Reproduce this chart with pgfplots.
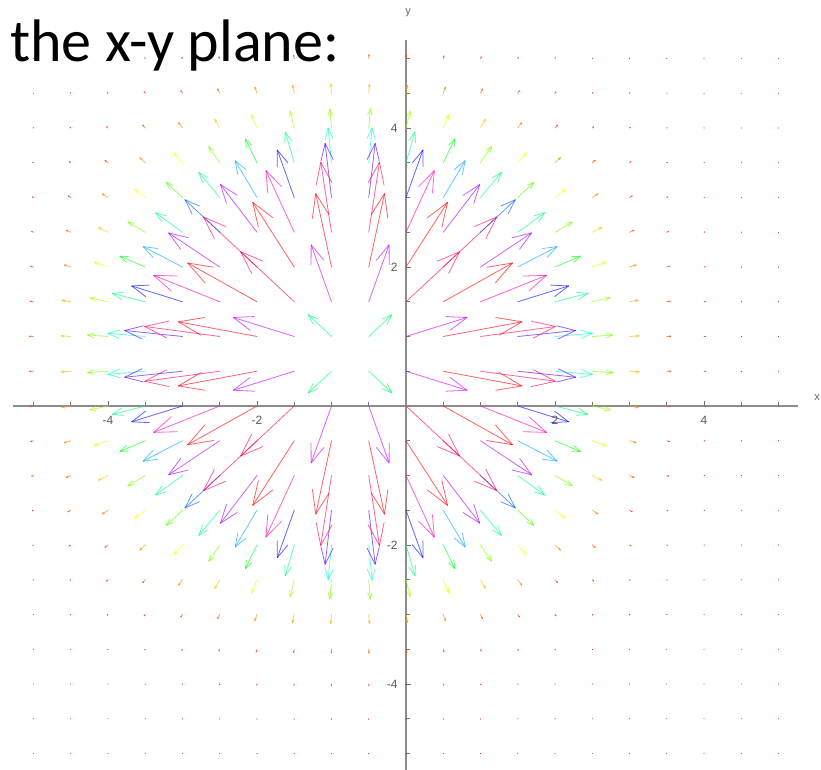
\documentclass[border=0pt]{standalone}
\usepackage{fontspec}
\setmainfont{Liberation Sans}
\newfontfamily\titlefont{Carlito}
\usepackage{pgfplots}
\usepackage{pgfplotstable}
\pgfplotsset{compat=1.18}

% vector field sampled on a 0.5 grid: start point (x,y) and vector (u,v)
\pgfplotstableread{
x y u v
-5 -5 0 0
-4.5 -5 0 0
-4 -5 0 0
-3.5 -5 0 0
-3 -5 0 0
-2.5 -5 0 -0.001
-2 -5 0 -0.001
-1.5 -5 0 -0.001
-1 -5 0 -0.002
-0.5 -5 0 -0.002
0 -5 0 -0.001
0.5 -5 0 -0.001
1 -5 0 -0.001
1.5 -5 0 0
2 -5 0 0
2.5 -5 0 0
3 -5 0 0
3.5 -5 0 0
4 -5 0 0
4.5 -5 0 0
5 -5 0 0
-5 -4.5 0 0
-4.5 -4.5 0 0
-4 -4.5 0 0
-3.5 -4.5 0 -0.001
-3 -4.5 -0.001 -0.002
-2.5 -4.5 -0.001 -0.003
-2 -4.5 -0.001 -0.004
-1.5 -4.5 -0.001 -0.005
-1 -4.5 0 -0.006
-0.5 -4.5 0 -0.006
0 -4.5 0.001 -0.005
0.5 -4.5 0.001 -0.004
1 -4.5 0.001 -0.003
1.5 -4.5 0.001 -0.002
2 -4.5 0 -0.001
2.5 -4.5 0 0
3 -4.5 0 0
3.5 -4.5 0 0
4 -4.5 0 0
4.5 -4.5 0 0
5 -4.5 0 0
-5 -4 0 0
-4.5 -4 0 -0.001
-4 -4 -0.001 -0.001
-3.5 -4 -0.002 -0.003
-3 -4 -0.002 -0.005
-2.5 -4 -0.003 -0.009
-2 -4 -0.003 -0.013
-1.5 -4 -0.003 -0.016
-1 -4 -0.001 -0.019
-0.5 -4 0.001 -0.019
0 -4 0.003 -0.016
0.5 -4 0.003 -0.013
1 -4 0.003 -0.009
1.5 -4 0.002 -0.005
2 -4 0.002 -0.003
2.5 -4 0.001 -0.001
3 -4 0 -0.001
3.5 -4 0 0
4 -4 0 0
4.5 -4 0 0
5 -4 0 0
-5 -3.5 -0.001 -0.001
-4.5 -3.5 -0.001 -0.002
-4 -3.5 -0.003 -0.004
-3.5 -3.5 -0.005 -0.008
-3 -3.5 -0.008 -0.015
-2.5 -3.5 -0.010 -0.024
-2 -3.5 -0.011 -0.036
-1.5 -3.5 -0.008 -0.046
-1 -3.5 -0.003 -0.053
-0.5 -3.5 0.003 -0.053
0 -3.5 0.008 -0.046
0.5 -3.5 0.011 -0.036
1 -3.5 0.010 -0.024
1.5 -3.5 0.008 -0.015
2 -3.5 0.005 -0.008
2.5 -3.5 0.003 -0.004
3 -3.5 0.001 -0.002
3.5 -3.5 0.001 -0.001
4 -3.5 0 0
4.5 -3.5 0 0
5 -3.5 0 0
-5 -3 -0.002 -0.001
-4.5 -3 -0.004 -0.004
-4 -3 -0.008 -0.009
-3.5 -3 -0.014 -0.019
-3 -3 -0.022 -0.036
-2.5 -3 -0.028 -0.060
-2 -3 -0.029 -0.088
-1.5 -3 -0.023 -0.114
-1 -3 -0.009 -0.129
-0.5 -3 0.009 -0.129
0 -3 0.023 -0.114
0.5 -3 0.029 -0.088
1 -3 0.028 -0.060
1.5 -3 0.022 -0.036
2 -3 0.014 -0.019
2.5 -3 0.008 -0.009
3 -3 0.004 -0.004
3.5 -3 0.002 -0.001
4 -3 0.001 0
4.5 -3 0 0
5 -3 0 0
-5 -2.5 -0.004 -0.003
-4.5 -2.5 -0.009 -0.008
-4 -2.5 -0.019 -0.019
-3.5 -2.5 -0.034 -0.040
-3 -2.5 -0.053 -0.076
-2.5 -2.5 -0.068 -0.127
-2 -2.5 -0.072 -0.187
-1.5 -2.5 -0.056 -0.241
-1 -2.5 -0.021 -0.274
-0.5 -2.5 0.021 -0.274
0 -2.5 0.056 -0.241
0.5 -2.5 0.072 -0.187
1 -2.5 0.068 -0.127
1.5 -2.5 0.053 -0.076
2 -2.5 0.034 -0.040
2.5 -2.5 0.019 -0.019
3 -2.5 0.009 -0.008
3.5 -2.5 0.004 -0.003
4 -2.5 0.001 -0.001
4.5 -2.5 0 0
5 -2.5 0 0
-5 -2 -0.008 -0.005
-4.5 -2 -0.019 -0.014
-4 -2 -0.040 -0.034
-3.5 -2 -0.073 -0.073
-3 -2 -0.114 -0.139
-2.5 -2 -0.148 -0.232
-2 -2 -0.155 -0.340
-1.5 -2 -0.120 -0.440
-1 -2 -0.045 -0.500
-0.5 -2 0.045 -0.500
0 -2 0.120 -0.440
0.5 -2 0.155 -0.340
1 -2 0.148 -0.232
1.5 -2 0.114 -0.139
2 -2 0.073 -0.073
2.5 -2 0.040 -0.034
3 -2 0.019 -0.014
3.5 -2 0.008 -0.005
4 -2 0.003 -0.002
4.5 -2 0.001 0
5 -2 0 0
-5 -1.5 -0.015 -0.008
-4.5 -1.5 -0.036 -0.022
-4 -1.5 -0.076 -0.053
-3.5 -1.5 -0.139 -0.114
-3 -1.5 -0.216 -0.216
-2.5 -1.5 -0.280 -0.360
-2 -1.5 -0.293 -0.528
-1.5 -1.5 -0.227 -0.682
-1 -1.5 -0.086 -0.776
-0.5 -1.5 0.086 -0.776
0 -1.5 0.227 -0.682
0.5 -1.5 0.293 -0.528
1 -1.5 0.280 -0.360
1.5 -1.5 0.216 -0.216
2 -1.5 0.139 -0.114
2.5 -1.5 0.076 -0.053
3 -1.5 0.036 -0.022
3.5 -1.5 0.015 -0.008
4 -1.5 0.005 -0.002
4.5 -1.5 0.002 -0.001
5 -1.5 0 0
-5 -1 -0.024 -0.010
-4.5 -1 -0.060 -0.028
-4 -1 -0.127 -0.068
-3.5 -1 -0.232 -0.148
-3 -1 -0.360 -0.280
-2.5 -1 -0.467 -0.467
-2 -1 -0.490 -0.686
-1.5 -1 -0.380 -0.886
-1 -1 -0.144 -1.007
-0.5 -1 0.144 -1.007
0 -1 0.380 -0.886
0.5 -1 0.490 -0.686
1 -1 0.467 -0.467
1.5 -1 0.360 -0.280
2 -1 0.232 -0.148
2.5 -1 0.127 -0.068
3 -1 0.060 -0.028
3.5 -1 0.024 -0.010
4 -1 0.009 -0.003
4.5 -1 0.003 -0.001
5 -1 0.001 0
-5 -0.5 -0.036 -0.011
-4.5 -0.5 -0.088 -0.029
-4 -0.5 -0.187 -0.072
-3.5 -0.5 -0.340 -0.155
-3 -0.5 -0.528 -0.293
-2.5 -0.5 -0.686 -0.490
-2 -0.5 -0.719 -0.719
-1.5 -0.5 -0.557 -0.929
-1 -0.5 -0.211 -1.055
-0.5 -0.5 0.211 -1.055
0 -0.5 0.557 -0.929
0.5 -0.5 0.719 -0.719
1 -0.5 0.686 -0.490
1.5 -0.5 0.528 -0.293
2 -0.5 0.340 -0.155
2.5 -0.5 0.187 -0.072
3 -0.5 0.088 -0.029
3.5 -0.5 0.036 -0.011
4 -0.5 0.013 -0.003
4.5 -0.5 0.004 -0.001
5 -0.5 0.001 0
-5 0 -0.046 -0.008
-4.5 0 -0.114 -0.023
-4 0 -0.241 -0.056
-3.5 0 -0.440 -0.120
-3 0 -0.682 -0.227
-2.5 0 -0.886 -0.380
-2 0 -0.929 -0.557
-1.5 0 -0.720 -0.720
-1 0 -0.273 -0.818
-0.5 0 0.273 -0.818
0 0 0.720 -0.720
0.5 0 0.929 -0.557
1 0 0.886 -0.380
1.5 0 0.682 -0.227
2 0 0.440 -0.120
2.5 0 0.241 -0.056
3 0 0.114 -0.023
3.5 0 0.046 -0.008
4 0 0.016 -0.003
4.5 0 0.005 -0.001
5 0 0.001 0
-5 0.5 -0.053 -0.003
-4.5 0.5 -0.129 -0.009
-4 0.5 -0.274 -0.021
-3.5 0.5 -0.500 -0.045
-3 0.5 -0.776 -0.086
-2.5 0.5 -1.007 -0.144
-2 0.5 -1.055 -0.211
-1.5 0.5 -0.818 -0.273
-1 0.5 -0.310 -0.310
-0.5 0.5 0.310 -0.310
0 0.5 0.818 -0.273
0.5 0.5 1.055 -0.211
1 0.5 1.007 -0.144
1.5 0.5 0.776 -0.086
2 0.5 0.500 -0.045
2.5 0.5 0.274 -0.021
3 0.5 0.129 -0.009
3.5 0.5 0.053 -0.003
4 0.5 0.019 -0.001
4.5 0.5 0.006 0
5 0.5 0.002 0
-5 1 -0.053 0.003
-4.5 1 -0.129 0.009
-4 1 -0.274 0.021
-3.5 1 -0.500 0.045
-3 1 -0.776 0.086
-2.5 1 -1.007 0.144
-2 1 -1.055 0.211
-1.5 1 -0.818 0.273
-1 1 -0.310 0.310
-0.5 1 0.310 0.310
0 1 0.818 0.273
0.5 1 1.055 0.211
1 1 1.007 0.144
1.5 1 0.776 0.086
2 1 0.500 0.045
2.5 1 0.274 0.021
3 1 0.129 0.009
3.5 1 0.053 0.003
4 1 0.019 0.001
4.5 1 0.006 0
5 1 0.002 0
-5 1.5 -0.046 0.008
-4.5 1.5 -0.114 0.023
-4 1.5 -0.241 0.056
-3.5 1.5 -0.440 0.120
-3 1.5 -0.682 0.227
-2.5 1.5 -0.886 0.380
-2 1.5 -0.929 0.557
-1.5 1.5 -0.720 0.720
-1 1.5 -0.273 0.818
-0.5 1.5 0.273 0.818
0 1.5 0.720 0.720
0.5 1.5 0.929 0.557
1 1.5 0.886 0.380
1.5 1.5 0.682 0.227
2 1.5 0.440 0.120
2.5 1.5 0.241 0.056
3 1.5 0.114 0.023
3.5 1.5 0.046 0.008
4 1.5 0.016 0.003
4.5 1.5 0.005 0.001
5 1.5 0.001 0
-5 2 -0.036 0.011
-4.5 2 -0.088 0.029
-4 2 -0.187 0.072
-3.5 2 -0.340 0.155
-3 2 -0.528 0.293
-2.5 2 -0.686 0.490
-2 2 -0.719 0.719
-1.5 2 -0.557 0.929
-1 2 -0.211 1.055
-0.5 2 0.211 1.055
0 2 0.557 0.929
0.5 2 0.719 0.719
1 2 0.686 0.490
1.5 2 0.528 0.293
2 2 0.340 0.155
2.5 2 0.187 0.072
3 2 0.088 0.029
3.5 2 0.036 0.011
4 2 0.013 0.003
4.5 2 0.004 0.001
5 2 0.001 0
-5 2.5 -0.024 0.010
-4.5 2.5 -0.060 0.028
-4 2.5 -0.127 0.068
-3.5 2.5 -0.232 0.148
-3 2.5 -0.360 0.280
-2.5 2.5 -0.467 0.467
-2 2.5 -0.490 0.686
-1.5 2.5 -0.380 0.886
-1 2.5 -0.144 1.007
-0.5 2.5 0.144 1.007
0 2.5 0.380 0.886
0.5 2.5 0.490 0.686
1 2.5 0.467 0.467
1.5 2.5 0.360 0.280
2 2.5 0.232 0.148
2.5 2.5 0.127 0.068
3 2.5 0.060 0.028
3.5 2.5 0.024 0.010
4 2.5 0.009 0.003
4.5 2.5 0.003 0.001
5 2.5 0.001 0
-5 3 -0.015 0.008
-4.5 3 -0.036 0.022
-4 3 -0.076 0.053
-3.5 3 -0.139 0.114
-3 3 -0.216 0.216
-2.5 3 -0.280 0.360
-2 3 -0.293 0.528
-1.5 3 -0.227 0.682
-1 3 -0.086 0.776
-0.5 3 0.086 0.776
0 3 0.227 0.682
0.5 3 0.293 0.528
1 3 0.280 0.360
1.5 3 0.216 0.216
2 3 0.139 0.114
2.5 3 0.076 0.053
3 3 0.036 0.022
3.5 3 0.015 0.008
4 3 0.005 0.002
4.5 3 0.002 0.001
5 3 0 0
-5 3.5 -0.008 0.005
-4.5 3.5 -0.019 0.014
-4 3.5 -0.040 0.034
-3.5 3.5 -0.073 0.073
-3 3.5 -0.114 0.139
-2.5 3.5 -0.148 0.232
-2 3.5 -0.155 0.340
-1.5 3.5 -0.120 0.440
-1 3.5 -0.045 0.500
-0.5 3.5 0.045 0.500
0 3.5 0.120 0.440
0.5 3.5 0.155 0.340
1 3.5 0.148 0.232
1.5 3.5 0.114 0.139
2 3.5 0.073 0.073
2.5 3.5 0.040 0.034
3 3.5 0.019 0.014
3.5 3.5 0.008 0.005
4 3.5 0.003 0.002
4.5 3.5 0.001 0
5 3.5 0 0
-5 4 -0.004 0.003
-4.5 4 -0.009 0.008
-4 4 -0.019 0.019
-3.5 4 -0.034 0.040
-3 4 -0.053 0.076
-2.5 4 -0.068 0.127
-2 4 -0.072 0.187
-1.5 4 -0.056 0.241
-1 4 -0.021 0.274
-0.5 4 0.021 0.274
0 4 0.056 0.241
0.5 4 0.072 0.187
1 4 0.068 0.127
1.5 4 0.053 0.076
2 4 0.034 0.040
2.5 4 0.019 0.019
3 4 0.009 0.008
3.5 4 0.004 0.003
4 4 0.001 0.001
4.5 4 0 0
5 4 0 0
-5 4.5 -0.002 0.001
-4.5 4.5 -0.004 0.004
-4 4.5 -0.008 0.009
-3.5 4.5 -0.014 0.019
-3 4.5 -0.022 0.036
-2.5 4.5 -0.028 0.060
-2 4.5 -0.029 0.088
-1.5 4.5 -0.023 0.114
-1 4.5 -0.009 0.129
-0.5 4.5 0.009 0.129
0 4.5 0.023 0.114
0.5 4.5 0.029 0.088
1 4.5 0.028 0.060
1.5 4.5 0.022 0.036
2 4.5 0.014 0.019
2.5 4.5 0.008 0.009
3 4.5 0.004 0.004
3.5 4.5 0.002 0.001
4 4.5 0.001 0
4.5 4.5 0 0
5 4.5 0 0
-5 5 -0.001 0.001
-4.5 5 -0.001 0.002
-4 5 -0.003 0.004
-3.5 5 -0.005 0.008
-3 5 -0.008 0.015
-2.5 5 -0.010 0.024
-2 5 -0.011 0.036
-1.5 5 -0.008 0.046
-1 5 -0.003 0.053
-0.5 5 0.003 0.053
0 5 0.008 0.046
0.5 5 0.011 0.036
1 5 0.010 0.024
1.5 5 0.008 0.015
2 5 0.005 0.008
2.5 5 0.003 0.004
3 5 0.001 0.002
3.5 5 0.001 0.001
4 5 0 0
4.5 5 0 0
5 5 0 0
}\fieldtab

\tikzset{arrowline/.style={draw=mapped color, draw opacity=0.62, line width=0.8pt, line cap=round}}
\pgfplotsset{
  arrowpart/.style={
    no markers,
    point meta={sqrt(\thisrow{u}^2+\thisrow{v}^2)},
  },
}

\begin{document}
\begin{tikzpicture}
\begin{axis}[
  at={(406pt,364pt)}, anchor=origin,
  x=74.5pt, y=69.5pt,
  xmin=-5.27, xmax=5.26, ymin=-5.26, ymax=5.27,
  axis lines=middle,
  axis line style={-, draw=black!45, line width=1.1pt},
  clip=false,
  xtick={-4,-2,2,4}, ytick={-4,-2,2,4},
  xticklabels={-4,-2,2,4}, yticklabels={-4,-2,2,4},
  minor xtick={-5,-4.5,-3.5,-3,-2.5,-1.5,-1,-0.5,0.5,1,1.5,2.5,3,3.5,4.5,5},
  minor ytick={-5,-4.5,-3.5,-3,-2.5,-1.5,-1,-0.5,0.5,1,1.5,2.5,3,3.5,4.5,5},
  tick align=inside,
  major tick length=5pt, minor tick length=3.5pt,
  tick style={draw=black!55, line width=0.7pt},
  ticklabel style={font=\fontsize{12}{13}\selectfont, text=black!65},
  xticklabel style={yshift=-7pt},
  yticklabel style={xshift=-5pt},
  colormap={maplehue}{rgb255=(255,0,0) rgb255=(255,255,0) rgb255=(0,255,0)
    rgb255=(0,255,255) rgb255=(0,0,255) rgb255=(255,0,255) rgb255=(255,0,0)},
  point meta min=0, point meta max=1.083,
]
% shafts
\addplot[arrowpart, quiver={u=\thisrow{u}, v=\thisrow{v},
    every arrow/.append style={arrowline}}]
  table {\fieldtab};
% first barb of each head
\addplot[arrowpart, quiver={
    u={-0.33*(0.9397*\thisrow{u}-0.319*\thisrow{v})},
    v={-0.33*(0.3666*\thisrow{u}+0.9397*\thisrow{v})},
    every arrow/.append style={arrowline}}]
  table[x expr={\thisrow{x}+\thisrow{u}}, y expr={\thisrow{y}+\thisrow{v}}] {\fieldtab};
% second barb of each head
\addplot[arrowpart, quiver={
    u={-0.33*(0.9397*\thisrow{u}+0.319*\thisrow{v})},
    v={-0.33*(-0.3666*\thisrow{u}+0.9397*\thisrow{v})},
    every arrow/.append style={arrowline}}]
  table[x expr={\thisrow{x}+\thisrow{u}}, y expr={\thisrow{y}+\thisrow{v}}] {\fieldtab};
\end{axis}
\node[font=\fontsize{11}{12}\selectfont, text=black!60] at (408pt,757pt) {y};
\node[anchor=east, inner sep=1pt, font=\fontsize{11}{12}\selectfont, text=black!60] at (821pt,372pt) {x};
\node[anchor=base west, inner sep=0pt, font=\titlefont\fontsize{60}{60}\selectfont] at (10pt,708pt) {the x-y plane:};
\pgfresetboundingbox
\path (0pt,0pt) rectangle (821pt,770pt);
\end{tikzpicture}
\end{document}
